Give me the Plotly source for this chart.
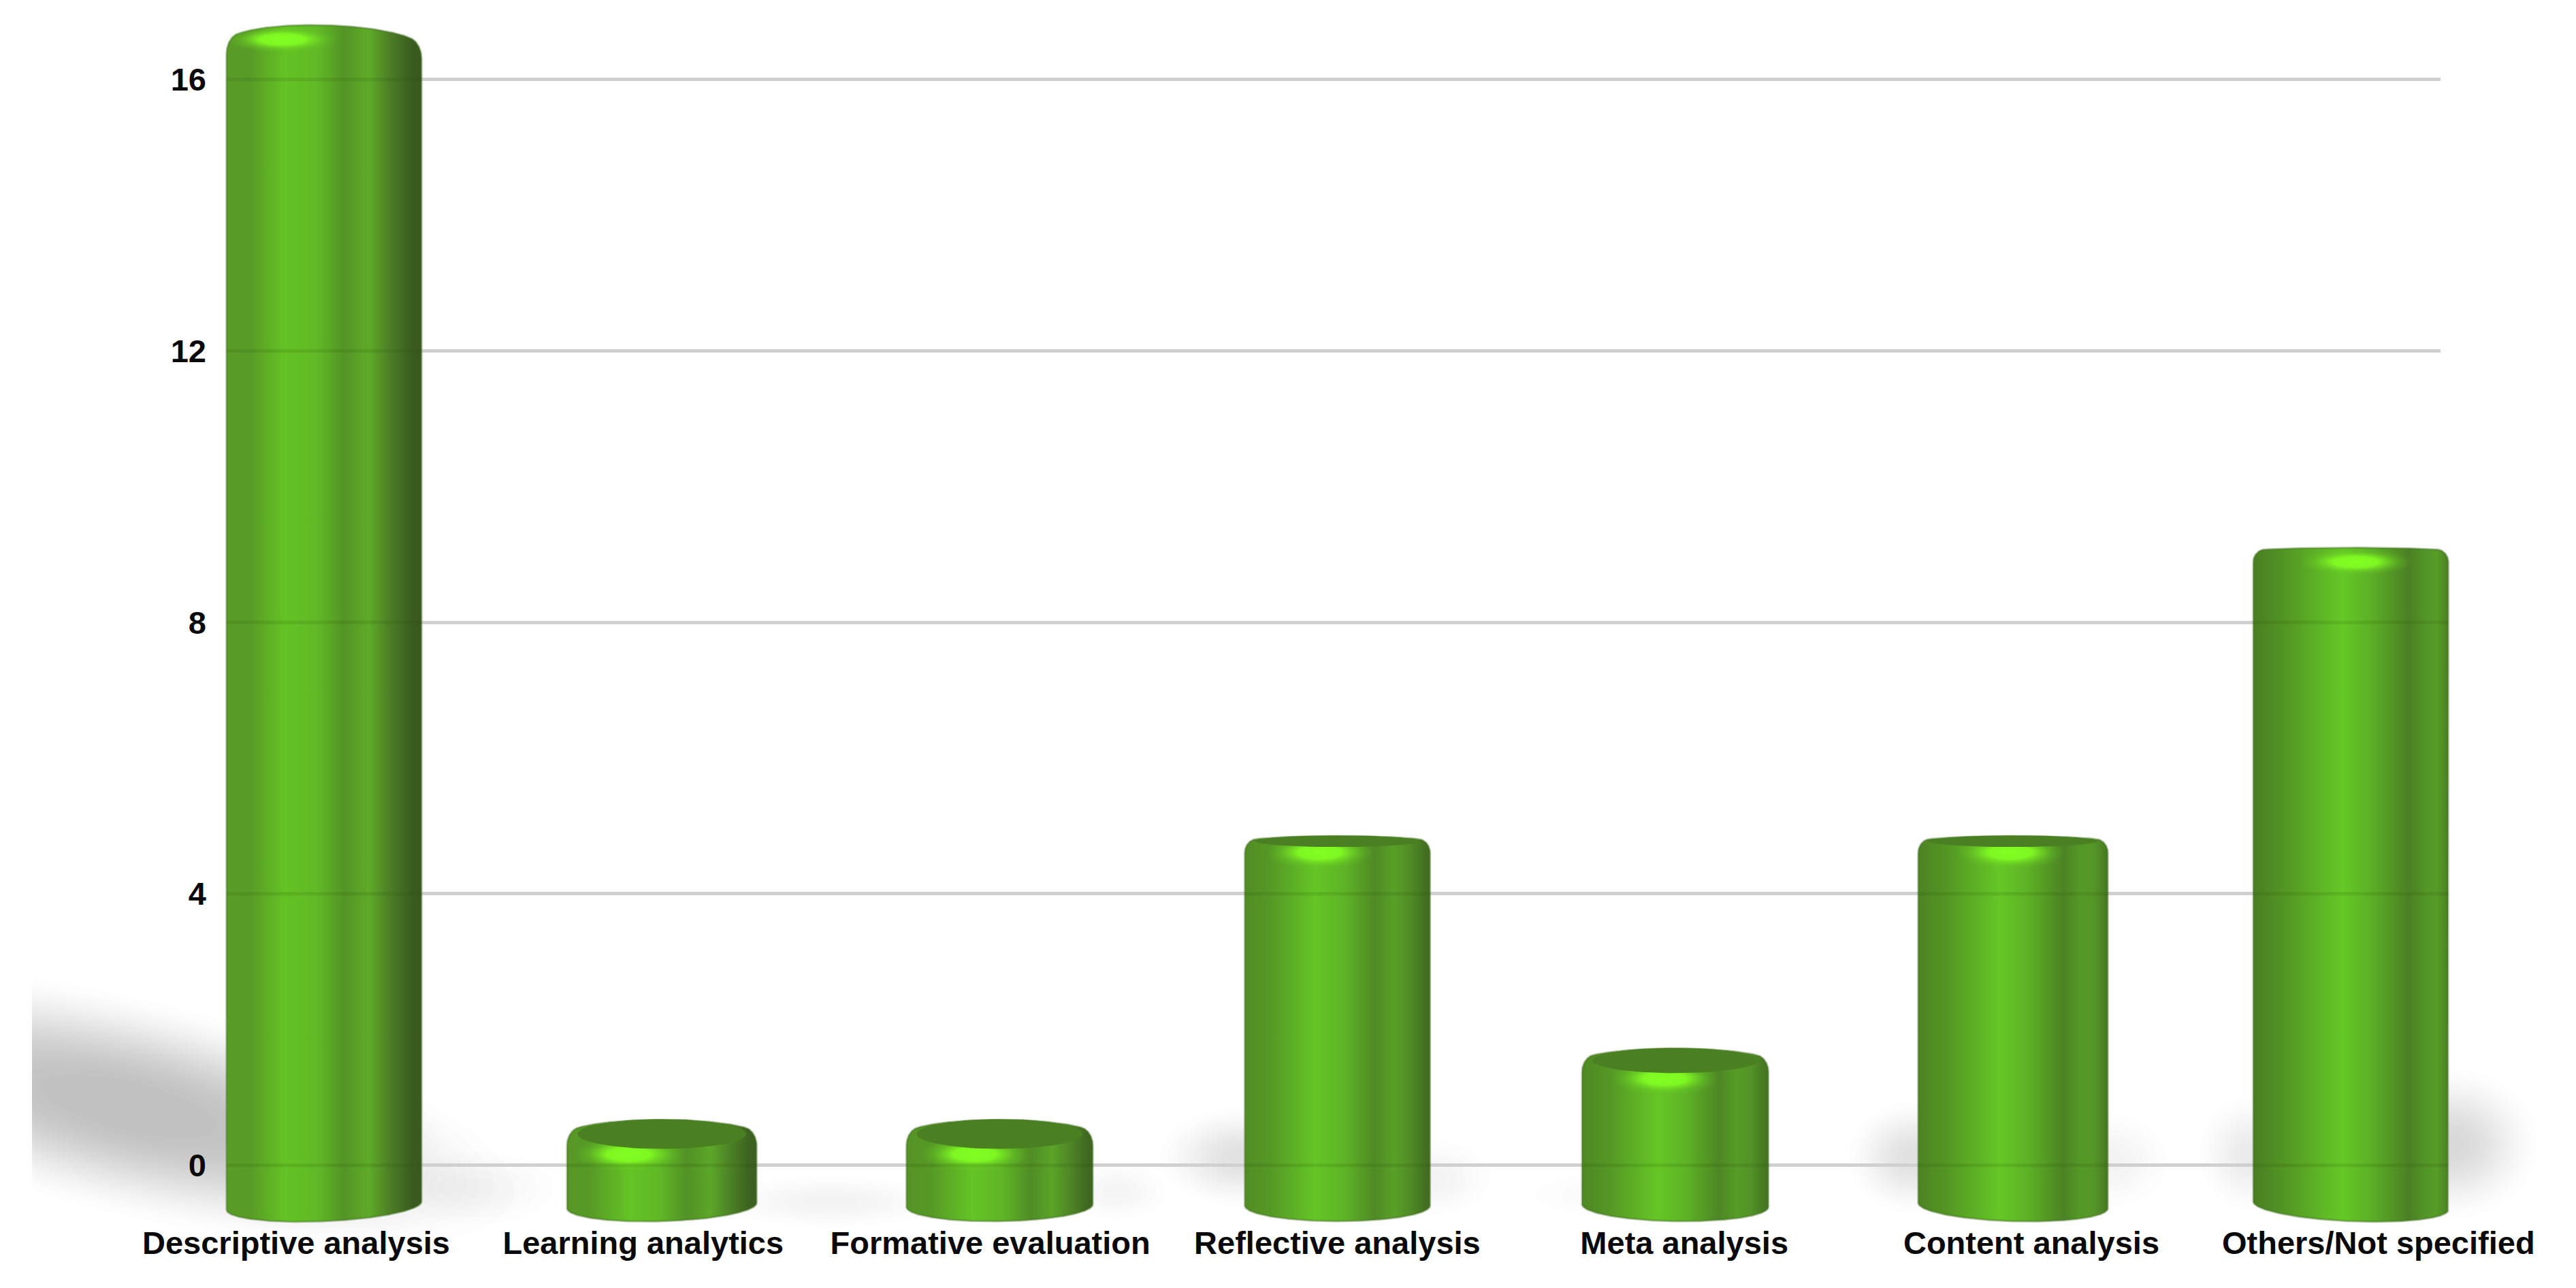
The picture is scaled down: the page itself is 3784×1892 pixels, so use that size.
import numpy as np
import plotly.graph_objects as go

# ---------- data ----------
categories = ["Descriptive analysis", "Learning analytics", "Formative evaluation",
              "Reflective analysis", "Meta analysis", "Content analysis", "Others/Not specified"]
values = [16.8, 0.67, 0.67, 4.85, 1.72, 4.85, 9.1]
y_ticks = [0, 4, 8, 12, 16]

# ---------- geometry of the canvas ----------
W, H = 3784, 1892
PX_X = 496.2      # pixels per category on the bar axis
PX_Y = 99.69      # pixels per unit on the value axis
X0_PX = 476.0     # pixel of the first bar centre
Y0_PX = 1711.7    # pixel of value 0
LEFT, RIGHT, TOP, BOTTOM = 340, 3585, 10, 1797
BAR_L, BAR_R = 300, 3640


def dx(px):
    return np.asarray(px) / PX_X


def ypx(v):
    return Y0_PX - np.asarray(v) * PX_Y


def yv(py):
    return (Y0_PX - np.asarray(py)) / PX_Y


def lerp_color(a, b, f):
    ca = [int(a[k:k + 2], 16) for k in (1, 3, 5)]
    cb = [int(b[k:k + 2], 16) for k in (1, 3, 5)]
    return "rgb(%d,%d,%d)" % tuple(round(p + (q - p) * f) for p, q in zip(ca, cb))


STOPS_L = [0, .12, .30, .47, .60, .73, .83, .95, 1]
COLS_L = ["#5a9c28", "#589b27", "#64c224", "#60b826", "#539426", "#5eab28", "#4e8027", "#3a5c20", "#385820"]
STOPS_R = [0, .15, .46, .60, .80, .88, .94, .98, 1]
COLS_R = ["#4a7e22", "#529424", "#65c826", "#5cb026", "#4b8024", "#529527", "#569c27", "#4f8a25", "#4a7d22"]


def body_scale(i):
    f = i / 6
    return [[a + (b - a) * f, lerp_color(p, q, f)]
            for a, b, p, q in zip(STOPS_L, STOPS_R, COLS_L, COLS_R)]


fig = go.Figure()

# ---------- soft shadows (pixel axes, under everything) ----------
def layered_shadow(cx, cy, a, b, slope, alpha, clip_left=None, inner=0.3):
    # each ring darkens by two 8-bit grey levels, so rounding does not pile up
    n = max(2, round(alpha * 255 / 2))
    each = 2 / 255
    ang = np.arctan(slope)
    th = np.linspace(0, 2 * np.pi, 120)
    # equal opacity steps along a smoothstep falloff: no visible edge at either end
    k = (np.arange(n) + 0.5) / n
    ramp = 0.5 - np.sin(np.arcsin(1 - 2 * k) / 3)
    for s in 1 - (1 - inner) * ramp:
        ex, ey = a * s * np.cos(th), b * s * np.sin(th)
        x = cx + ex * np.cos(ang) - ey * np.sin(ang)
        y = cy + ex * np.sin(ang) + ey * np.cos(ang)
        if clip_left is not None:
            x = np.maximum(x, clip_left)
        fig.add_trace(go.Scatter(x=x, y=y, mode="lines", fill="toself", line=dict(width=0),
                                 fillcolor="rgba(0,0,0,%.5f)" % each, hoverinfo="skip",
                                 showlegend=False, xaxis="x", yaxis="y"))


layered_shadow(190, 1625, 620, 168, 0.24, 0.24, clip_left=47, inner=0.15)
blobs = [  # cx, cy, rx, ry, alpha
    (3600, 1680, 140, 120, .15), (3305, 1695, 85, 95, .08), (2810, 1700, 105, 90, .12),
    (3100, 1705, 100, 80, .05), (1825, 1700, 135, 80, .12), (2105, 1730, 100, 65, .05),
    (700, 1745, 140, 65, .04), (1220, 1765, 190, 45, .045), (2420, 1755, 210, 45, .03),
    (1640, 1750, 90, 50, .04),
]
for cx, cy, rx, ry, al in blobs:
    layered_shadow(cx, cy, rx, ry, 0, al, inner=0.05)

# ---------- axis subplot: value axis, gridlines and category labels ----------
fig.add_trace(go.Scatter(x=list(range(len(categories))), y=values, mode="markers",
                         marker=dict(opacity=0), text=categories, hoverinfo="text+y",
                         showlegend=False, xaxis="x2", yaxis="y2"))

# ---------- cylinders ----------
BX = "x3"
BY = "y3"
grid_x, grid_y = [], []
for i, v in enumerate(values):
    hw = 136 + 0.8 * (i - 3) ** 2
    c = 24 - 3.2 * v                 # how far the camera looks onto the top disc
    side = ypx(v) + abs(c)
    r = 16
    t = np.sin(np.linspace(-np.pi / 2, np.pi / 2, 161))
    t0 = 1 - r / hw
    u = np.clip((np.abs(t) - t0) / (1 - t0), 0, 1)
    top_tilt = 3.5 if i == 0 else 0
    top_edge = side + r * (1 - np.sqrt(1 - u ** 2)) - abs(c) * np.sqrt(1 - t ** 2) + top_tilt * t
    bot_edge = 1771 + 2 * (i - 3) * t + 23 * np.sqrt(1 - t ** 2)
    xs = np.concatenate([i + dx(t * hw), i + dx(t[::-1] * hw), [i + dx(-hw)]])
    ys = np.concatenate([yv(top_edge), yv(bot_edge[::-1]), [yv(top_edge[0])]])
    fig.add_trace(go.Scatter(x=xs, y=ys, mode="lines", fill="toself",
                             line=dict(width=3, color="rgba(70,115,40,0.45)"),
                             fillgradient=dict(type="horizontal", colorscale=body_scale(i)),
                             hoverinfo="skip", showlegend=False, xaxis=BX, yaxis=BY))
    # highlight
    th = np.linspace(0, 2 * np.pi, 80)
    tc = -0.43 + 0.08 * i
    if c > 0:
        hy, ry = side + c + 7, 25
    else:
        hy, ry = ypx(v) + 21, 20
    rx = 0.58 * hw
    fig.add_trace(go.Scatter(x=i + dx(tc * hw + rx * np.cos(th)), y=yv(hy + ry * np.sin(th)),
                             mode="lines", fill="toself", line=dict(width=0),
                             fillgradient=dict(type="radial", colorscale=[
                                 [0, "rgba(130,255,34,1)"], [0.4, "rgba(128,250,34,0.95)"],
                                 [0.75, "rgba(110,215,34,0.3)"], [1, "rgba(100,200,34,0)"]]),
                             hoverinfo="skip", showlegend=False, xaxis=BX, yaxis=BY))
    # top disc seen from above
    if c > 3:
        fig.add_trace(go.Scatter(x=i + dx(0.89 * hw * np.cos(th)), y=yv(side + c * np.sin(th) - 1),
                                 mode="lines", fill="toself", line=dict(width=0),
                                 fillcolor="#4a7f22", hoverinfo="skip", showlegend=False,
                                 xaxis=BX, yaxis=BY))
    # gridlines shine faintly through the bar
    for g in y_ticks:
        if g < v - 0.35:
            grid_x += [i + dx(-hw), i + dx(hw), None]
            grid_y += [g, g, None]

fig.add_trace(go.Scatter(x=grid_x, y=grid_y, mode="lines",
                         line=dict(color="rgba(40,80,10,0.14)", width=5),
                         hoverinfo="skip", showlegend=False, xaxis=BX, yaxis=BY))

# ---------- layout ----------
font = dict(family="Liberation Sans, Arial, sans-serif", size=47, color="#0a0a0a", weight=700)
dom_y = [1 - BOTTOM / H, 1 - TOP / H]
y_range = [float(yv(BOTTOM)), float(yv(TOP))]
fig.update_layout(
    width=W, height=H, autosize=False, margin=dict(l=0, r=0, t=0, b=0, pad=0),
    paper_bgcolor="white", plot_bgcolor="rgba(0,0,0,0)", showlegend=False,
    hovermode="closest",
    xaxis=dict(domain=[0, 1], range=[0, W], visible=False, fixedrange=True, automargin=False),
    yaxis=dict(domain=[0, 1], range=[H, 0], visible=False, fixedrange=True, automargin=False),
    xaxis2=dict(domain=[LEFT / W, RIGHT / W], anchor="y2", side="bottom", fixedrange=True,
                automargin=False,
                range=[(LEFT - 435) / 509.8, (RIGHT - 435) / 509.8],
                tickmode="array", tickvals=list(range(len(categories))), ticktext=categories,
                tickfont=font, showgrid=False, zeroline=False, showline=False, ticks="",
                tickangle=0, ticklabelstandoff=-3),
    yaxis2=dict(domain=dom_y, anchor="x2", range=y_range, fixedrange=True, automargin=False,
                tickmode="array", tickvals=y_ticks, ticktext=[str(g) for g in y_ticks],
                showgrid=True, gridcolor="#d0d0d0", gridwidth=5, zeroline=False,
                showline=False, ticks="", tickfont=font, ticklabelstandoff=36),
    xaxis3=dict(domain=[BAR_L / W, BAR_R / W], anchor="y3", visible=False, fixedrange=True,
                automargin=False, range=[(BAR_L - X0_PX) / PX_X, (BAR_R - X0_PX) / PX_X]),
    yaxis3=dict(domain=[1 - (BOTTOM + 10) / H, 1 - (TOP - 10) / H], anchor="x3",
                range=[float(yv(BOTTOM + 10)), float(yv(TOP - 10))],
                visible=False, fixedrange=True, automargin=False),
)

fig.write_html("out.html", config=dict(displayModeBar=False),
               post_script="document.body.style.margin='0';document.documentElement.style.overflow='hidden';")
